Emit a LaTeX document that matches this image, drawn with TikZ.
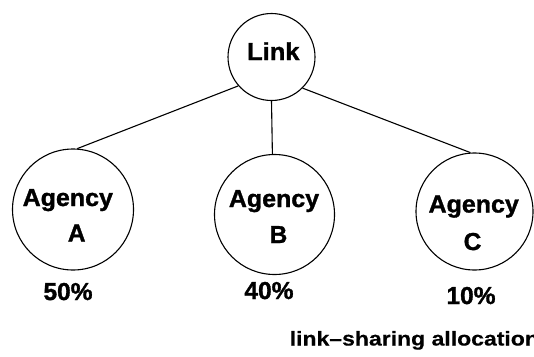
\documentclass[tikz,border=0pt]{standalone}
\usepackage{fontspec}
\setmainfont{Liberation Sans}
\newfontfamily\heavyfont{Liberation Sans Bold}[FakeBold=1.3]
\newfontfamily\capfont{Liberation Sans Bold}[FakeBold=0.4]
\begin{document}
\begin{tikzpicture}[x=1pt,y=-1pt,
  circ/.style={draw=black, line width=1.1pt, circle, inner sep=0pt, minimum size=#1},
  conn/.style={draw=black, line width=1.1pt},
  lbl/.style={inner sep=0pt, anchor=base, font=\heavyfont\fontsize{24.5}{29}\selectfont},
  captxt/.style={inner sep=0pt, anchor=base west, font=\capfont\fontsize{20}{24}\selectfont}]
\useasboundingbox[fill=white] (0,0) rectangle (534,356);
% circles
\node[circ=87pt] (link) at (271.5,57) {};
\node[circ=121pt] (A) at (73,209.5) {};
\node[circ=120pt] (B) at (274.5,214.5) {};
\node[circ=117pt] (C) at (474.5,211.5) {};
% connectors
\draw[conn] (link.221) -- (A.86);
\draw[conn] (link.south) -- (B.92);
\draw[conn] (link.315) -- (C.94);
% texts
\node[lbl] (tlink) at (273.3,60) {\scalebox{1.04}[1]{Link}};
\node[lbl] (tA1) at (67.8,206) {\scalebox{1.02}[1]{Agency}};
\node[lbl] (tA2) at (76.7,241.5) {A};
\node[lbl] (tB1) at (274,207) {\scalebox{1.02}[1]{Agency}};
\node[lbl] (tB2) at (278.5,243) {B};
\node[lbl] (tC1) at (473.7,212.5) {\scalebox{1.02}[1]{Agency}};
\node[lbl] (tC2) at (472.5,250) {C};
\node[lbl] (pA) at (68,300) {50\%};
\node[lbl] (pB) at (269,299) {40\%};
\node[lbl] (pC) at (471,304) {10\%};
\node[captxt] (alloc) at (289.5,345.5) {\scalebox{1.15}[1]{link–sharing allocation}};
\end{tikzpicture}
\end{document}
